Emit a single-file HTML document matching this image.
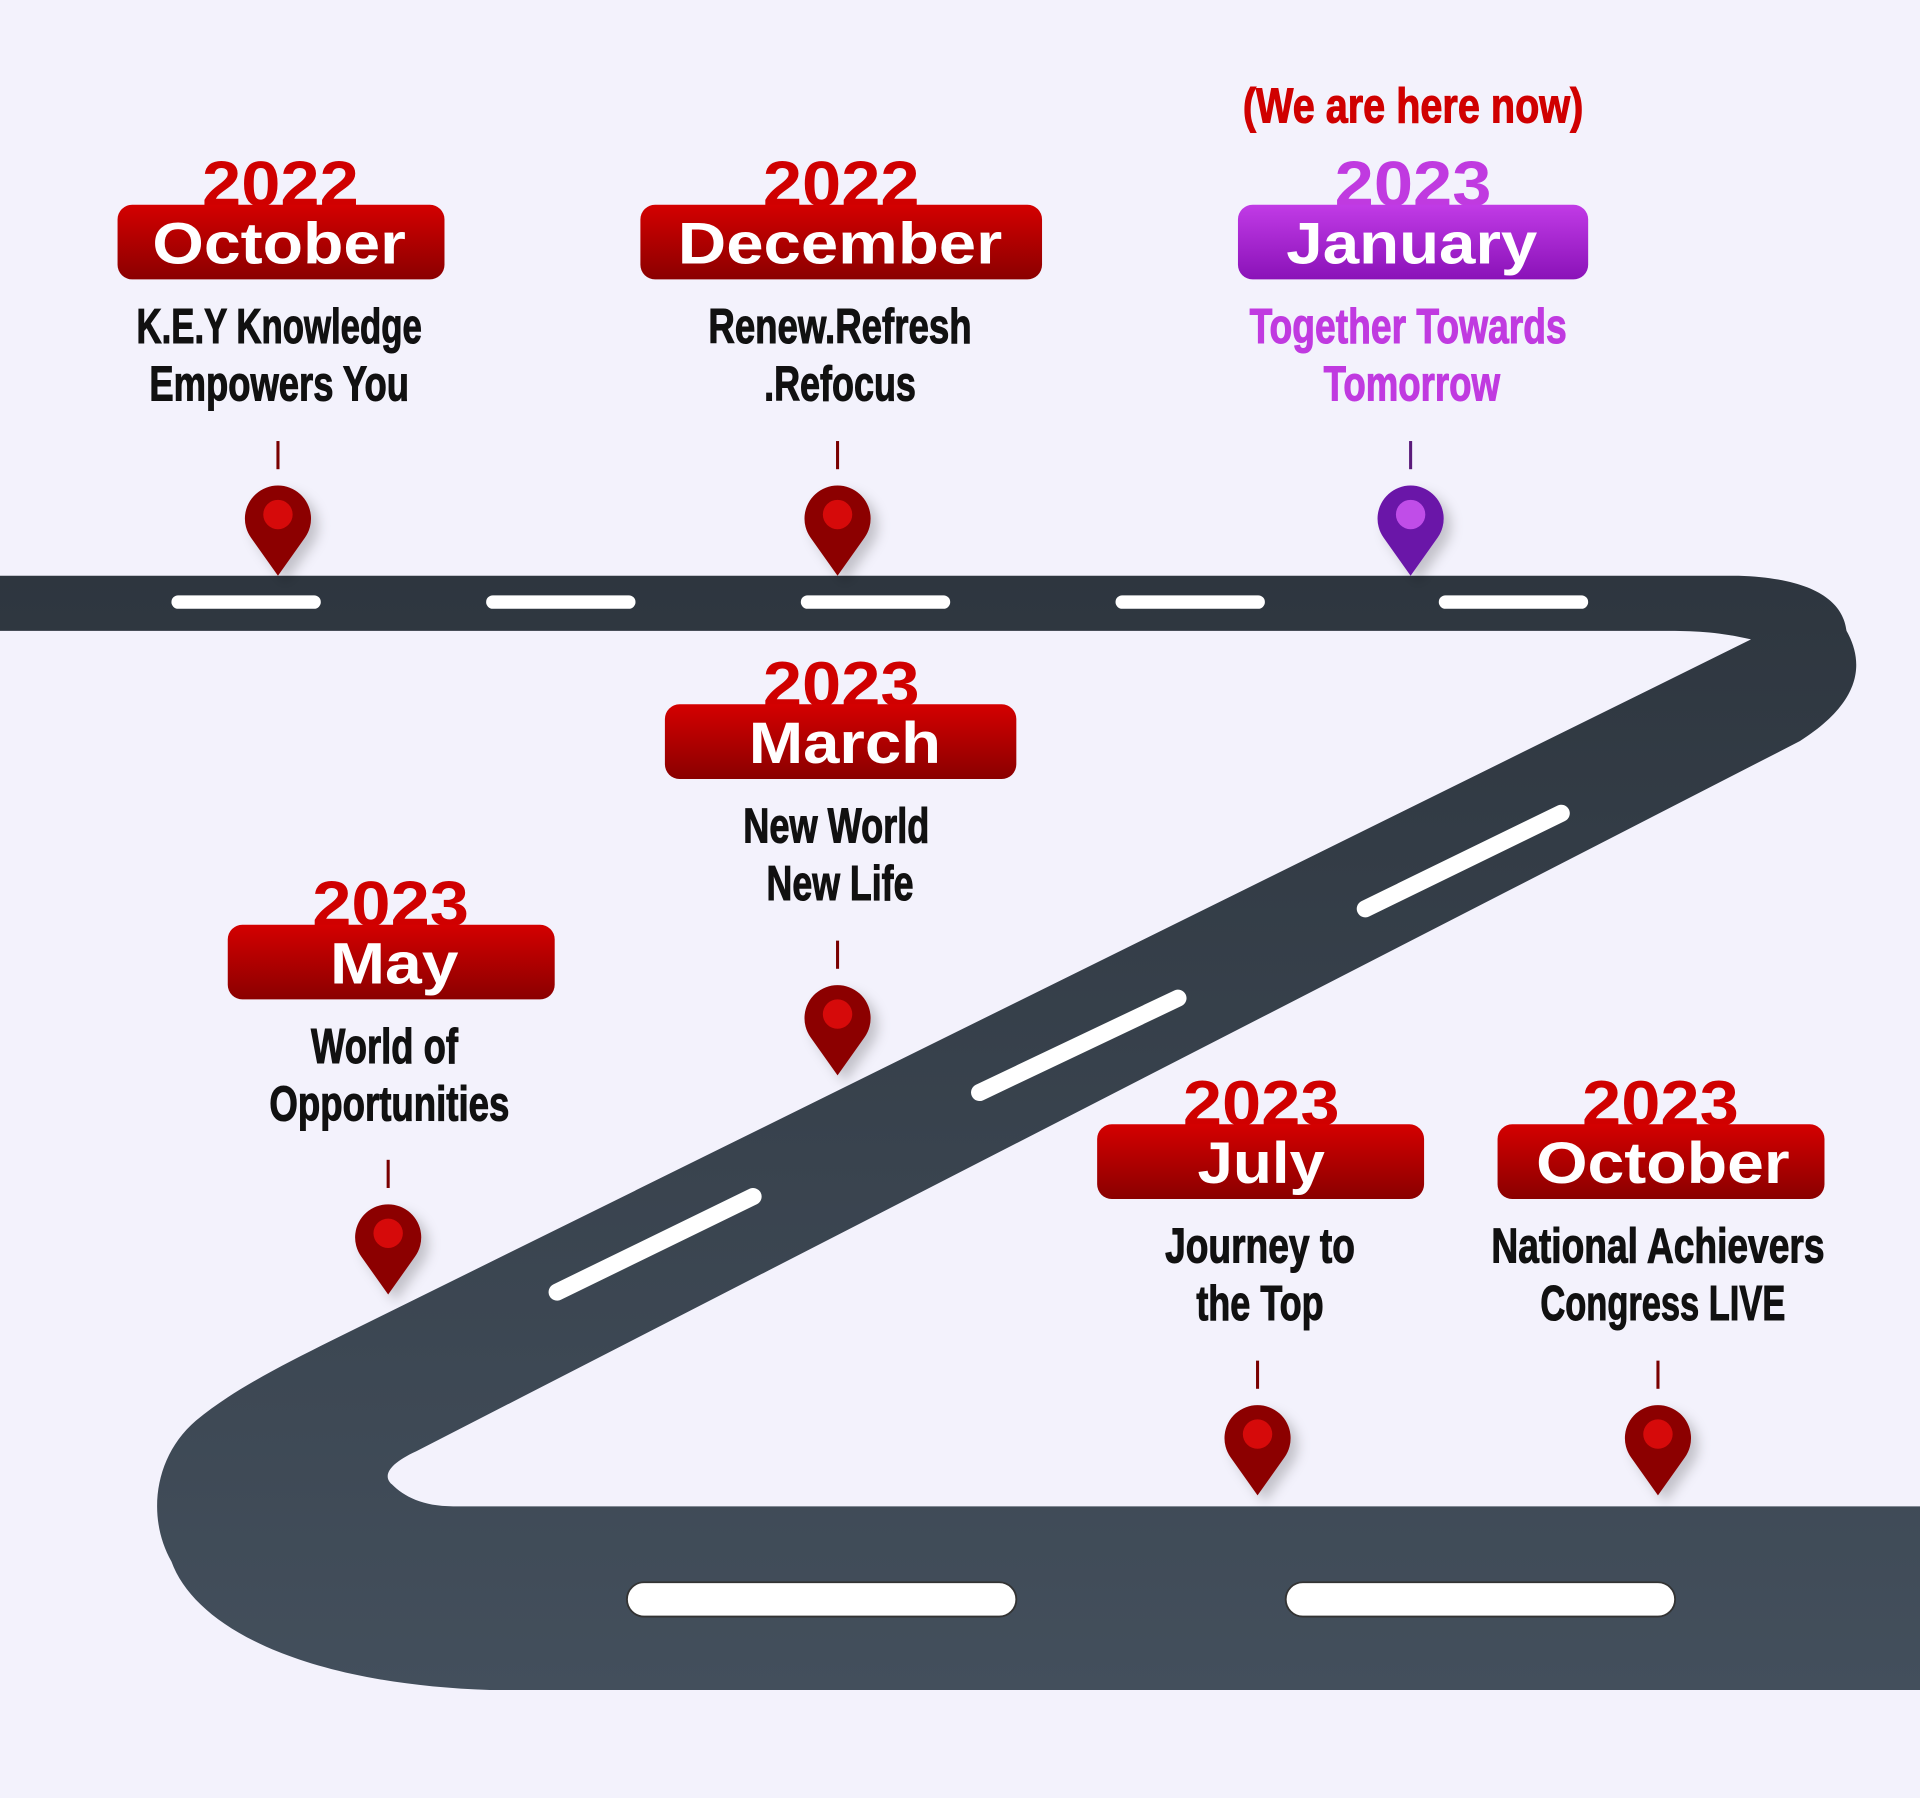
<!DOCTYPE html>
<html><head><meta charset="utf-8">
<style>
html,body{margin:0;padding:0;background:#f3f2fc;}
svg{display:block;}
.yr{font-family:"Liberation Sans",sans-serif;font-weight:bold;font-size:52px;text-anchor:middle;}
.mo{font-family:"Liberation Sans",sans-serif;font-weight:bold;font-size:48px;fill:#fff;text-anchor:middle;}
.ds{font-family:"Liberation Sans Narrow","Liberation Sans",sans-serif;font-weight:bold;font-size:40px;text-anchor:middle;fill:#111;stroke:#111;stroke-width:0.9px;}
</style></head>
<body>
<svg width="1920" height="1798" viewBox="0 0 1568 1468" xmlns="http://www.w3.org/2000/svg">
<defs>
<linearGradient id="road" x1="0" y1="0" x2="0" y2="1">
<stop offset="0" stop-color="#2e363f"/><stop offset="1" stop-color="#434f5c"/></linearGradient>
<linearGradient id="red" x1="0" y1="0" x2="0" y2="1">
<stop offset="0" stop-color="#d40000"/><stop offset="1" stop-color="#8a0000"/></linearGradient>
<linearGradient id="pur" x1="0" y1="0" x2="0" y2="1">
<stop offset="0" stop-color="#c13be6"/><stop offset="1" stop-color="#8a12b8"/></linearGradient>
<filter id="sh" x="-50%" y="-50%" width="200%" height="200%"><feDropShadow dx="6" dy="6" stdDeviation="5" flood-color="#000" flood-opacity="0.2"/></filter>
<g id="pinR"><line x1="0" y1="-35" x2="0" y2="-12" stroke="#7a0000" stroke-width="2.5"/>
<path d="M0,75 L-22,44 A27,27 0 1 1 22,44 Z" fill="#8c0000" filter="url(#sh)"/>
<circle cx="0" cy="25" r="12" fill="#d60a0a"/></g>
<g id="pinP"><line x1="0" y1="-35" x2="0" y2="-12" stroke="#5a1a7a" stroke-width="2.5"/>
<path d="M0,75 L-22,44 A27,27 0 1 1 22,44 Z" fill="#6a12a8" filter="url(#sh)"/>
<circle cx="0" cy="25" r="12" fill="#c04de8"/></g>
</defs>
<rect width="1568" height="1468" fill="#f3f2fc"/>
<path fill="url(#road)" d="M0,470 L1420,470 C1480,472 1505,490 1508,515 C1522,540 1522,572 1470,605 L340,1185 C318,1195 312,1205 320,1212 C330,1222 345,1230 370,1230 L1568,1230 L1568,1380 L400,1380 C250,1375 160,1330 140,1275 C120,1240 125,1190 160,1160 C190,1135 230,1115 270,1095 L1430,522 C1400,515 1380,515 1350,515 L0,515 Z"/>
<g fill="#fff">
<rect x="140" y="486" width="122" height="11" rx="5.5"/>
<rect x="397" y="486" width="122" height="11" rx="5.5"/>
<rect x="654" y="486" width="122" height="11" rx="5.5"/>
<rect x="911" y="486" width="122" height="11" rx="5.5"/>
<rect x="1175" y="486" width="122" height="11" rx="5.5"/>
</g>
<g stroke="#fff" stroke-width="14" stroke-linecap="round">
<line x1="1115" y1="742" x2="1275" y2="664"/>
<line x1="800" y1="892" x2="962" y2="815"/>
<line x1="455" y1="1055" x2="615" y2="977"/>
</g>
<rect x="512" y="1292" width="318" height="28" rx="14" fill="#fff" stroke="#333" stroke-width="1.5"/>
<rect x="1050" y="1292" width="318" height="28" rx="14" fill="#fff" stroke="#333" stroke-width="1.5"/>

<use href="#pinR" x="227" y="395"/>
<use href="#pinR" x="684" y="395"/>
<use href="#pinP" x="1152" y="395"/>
<use href="#pinR" x="684" y="803"/>
<use href="#pinR" x="317" y="982"/>
<use href="#pinR" x="1027" y="1146"/>
<use href="#pinR" x="1354" y="1146"/>

<text x="1154" y="100" class="ds" style="fill:#d00000;stroke:#d00000" textLength="278" lengthAdjust="spacingAndGlyphs">(We are here now)</text>

<text x="229" y="168" class="yr" fill="#d00000" textLength="128" lengthAdjust="spacingAndGlyphs">2022</text>
<rect x="96" y="167" width="267" height="61" rx="12" fill="url(#red)"/>
<text x="228" y="215" class="mo" textLength="207" lengthAdjust="spacingAndGlyphs">October</text>
<text x="228" y="280" class="ds" textLength="233" lengthAdjust="spacingAndGlyphs">K.E.Y Knowledge</text>
<text x="228" y="327" class="ds" textLength="212" lengthAdjust="spacingAndGlyphs">Empowers You</text>

<text x="687" y="168" class="yr" fill="#d00000" textLength="128" lengthAdjust="spacingAndGlyphs">2022</text>
<rect x="523" y="167" width="328" height="61" rx="12" fill="url(#red)"/>
<text x="686" y="215" class="mo" textLength="265" lengthAdjust="spacingAndGlyphs">December</text>
<text x="686" y="280" class="ds" textLength="215" lengthAdjust="spacingAndGlyphs">Renew.Refresh</text>
<text x="686" y="327" class="ds" textLength="124" lengthAdjust="spacingAndGlyphs">.Refocus</text>

<text x="1154" y="168" class="yr" fill="#c03ae0" textLength="128" lengthAdjust="spacingAndGlyphs">2023</text>
<rect x="1011" y="167" width="286" height="61" rx="12" fill="url(#pur)"/>
<text x="1153" y="215" class="mo" textLength="205" lengthAdjust="spacingAndGlyphs">January</text>
<text x="1150" y="280" class="ds" style="fill:#c03ae0;stroke:#c03ae0" textLength="259" lengthAdjust="spacingAndGlyphs">Together Towards</text>
<text x="1153" y="327" class="ds" style="fill:#c03ae0;stroke:#c03ae0" textLength="144" lengthAdjust="spacingAndGlyphs">Tomorrow</text>

<text x="687" y="577" class="yr" fill="#d00000" textLength="128" lengthAdjust="spacingAndGlyphs">2023</text>
<rect x="543" y="575" width="287" height="61" rx="12" fill="url(#red)"/>
<text x="690" y="623" class="mo" textLength="157" lengthAdjust="spacingAndGlyphs">March</text>
<text x="683" y="688" class="ds" textLength="152" lengthAdjust="spacingAndGlyphs">New World</text>
<text x="686" y="735" class="ds" textLength="120" lengthAdjust="spacingAndGlyphs">New Life</text>

<text x="319" y="756" class="yr" fill="#d00000" textLength="128" lengthAdjust="spacingAndGlyphs">2023</text>
<rect x="186" y="755" width="267" height="61" rx="12" fill="url(#red)"/>
<text x="322" y="803" class="mo" textLength="105" lengthAdjust="spacingAndGlyphs">May</text>
<text x="314" y="868" class="ds" textLength="120" lengthAdjust="spacingAndGlyphs">World of</text>
<text x="318" y="915" class="ds" textLength="196" lengthAdjust="spacingAndGlyphs">Opportunities</text>

<text x="1030" y="919" class="yr" fill="#d00000" textLength="128" lengthAdjust="spacingAndGlyphs">2023</text>
<rect x="896" y="918" width="267" height="61" rx="12" fill="url(#red)"/>
<text x="1030" y="966" class="mo" textLength="104" lengthAdjust="spacingAndGlyphs">July</text>
<text x="1029" y="1031" class="ds" textLength="155" lengthAdjust="spacingAndGlyphs">Journey to</text>
<text x="1029" y="1078" class="ds" textLength="104" lengthAdjust="spacingAndGlyphs">the Top</text>

<text x="1356" y="919" class="yr" fill="#d00000" textLength="128" lengthAdjust="spacingAndGlyphs">2023</text>
<rect x="1223" y="918" width="267" height="61" rx="12" fill="url(#red)"/>
<text x="1358" y="966" class="mo" textLength="207" lengthAdjust="spacingAndGlyphs">October</text>
<text x="1354" y="1031" class="ds" textLength="272" lengthAdjust="spacingAndGlyphs">National Achievers</text>
<text x="1358" y="1078" class="ds" textLength="200" lengthAdjust="spacingAndGlyphs">Congress LIVE</text>
</svg>
</body></html>
